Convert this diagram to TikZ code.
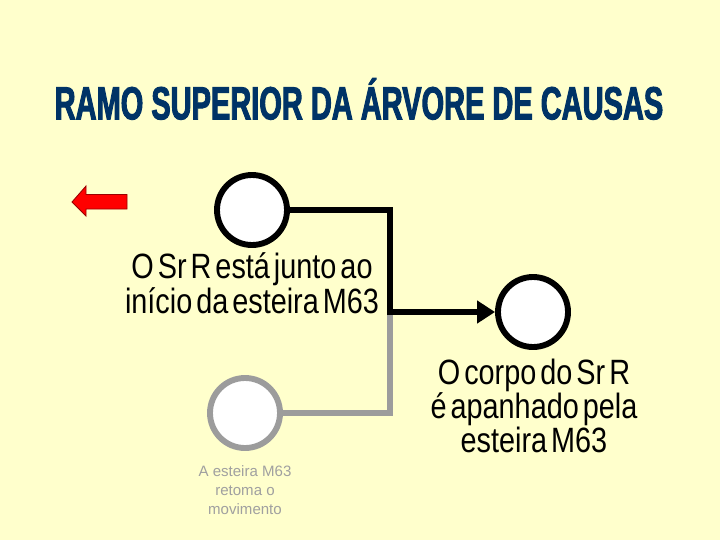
\documentclass[tikz,border=0pt]{standalone}
\usepackage{fontspec}
\setmainfont{Liberation Sans}
\newfontfamily\titlefont[FakeStretch=0.625,FakeBold=2]{Liberation Sans}
\newfontfamily\labelfont[FakeStretch=0.82,WordSpace=0.5]{Liberation Sans}
\usetikzlibrary{arrows.meta}
\definecolor{paper}{HTML}{FFFFCC}
\definecolor{titleblue}{HTML}{003366}
\definecolor{faded}{HTML}{9C9C9C}
\definecolor{fadedtext}{HTML}{A0A0A0}
\definecolor{arrowred}{HTML}{FF0000}
\definecolor{arrowedge}{HTML}{990000}

\begin{document}
\begin{tikzpicture}[x=0.025cm,y=-0.025cm,
  event/.style={circle, draw=black, fill=white, line width=4.2pt, minimum size=1.75cm, inner sep=0pt},
  ghost/.style={event, draw=faded},
  eventtext/.style={align=center, inner sep=0pt, font=\labelfont\fontsize{25}{21.5}\selectfont},
  ghosttext/.style={align=center, inner sep=0pt, text=fadedtext, font=\fontsize{10.7}{13.5}\selectfont},
  link/.style={line width=4pt}]
  \fill[paper] (0,0) rectangle (720,540);
  \node[text=titleblue, font=\titlefont\bfseries\fontsize{33}{33}\selectfont] (title) at (359,99) {RAMO SUPERIOR DA ÁRVORE DE CAUSAS};
  % seta de voltar
  \filldraw[fill=arrowred, draw=arrowedge, line width=0.6pt] (72,202) -- (86,186) -- (86,194.5) -- (127,194.5) -- (127,209) -- (86,209) -- (86,216) -- cycle;
  % eventos
  \node[event] (sitting) at (252,210) {};
  \node[event] (caught) at (533,312) {};
  \node[ghost] (restart) at (245,413) {};
  \coordinate (joint) at (390,312);
  \draw[link, draw=faded] (joint) |- (restart.east);
  \draw[link, -{Triangle[length=0.45cm, width=0.55cm]}] (sitting.east) -| (joint) -- (caught.west);
  % textos
  \node[eventtext] (sittingtext) at (252,283) {O Sr R está junto ao\\início da esteira M63};
  \node[eventtext] (caughttext) at (534,406) {O corpo do Sr R\\é apanhado pela\\esteira M63};
  \node[ghosttext] (restarttext) at (245,490) {A esteira M63\\retoma o\\movimento};
\end{tikzpicture}
\end{document}
